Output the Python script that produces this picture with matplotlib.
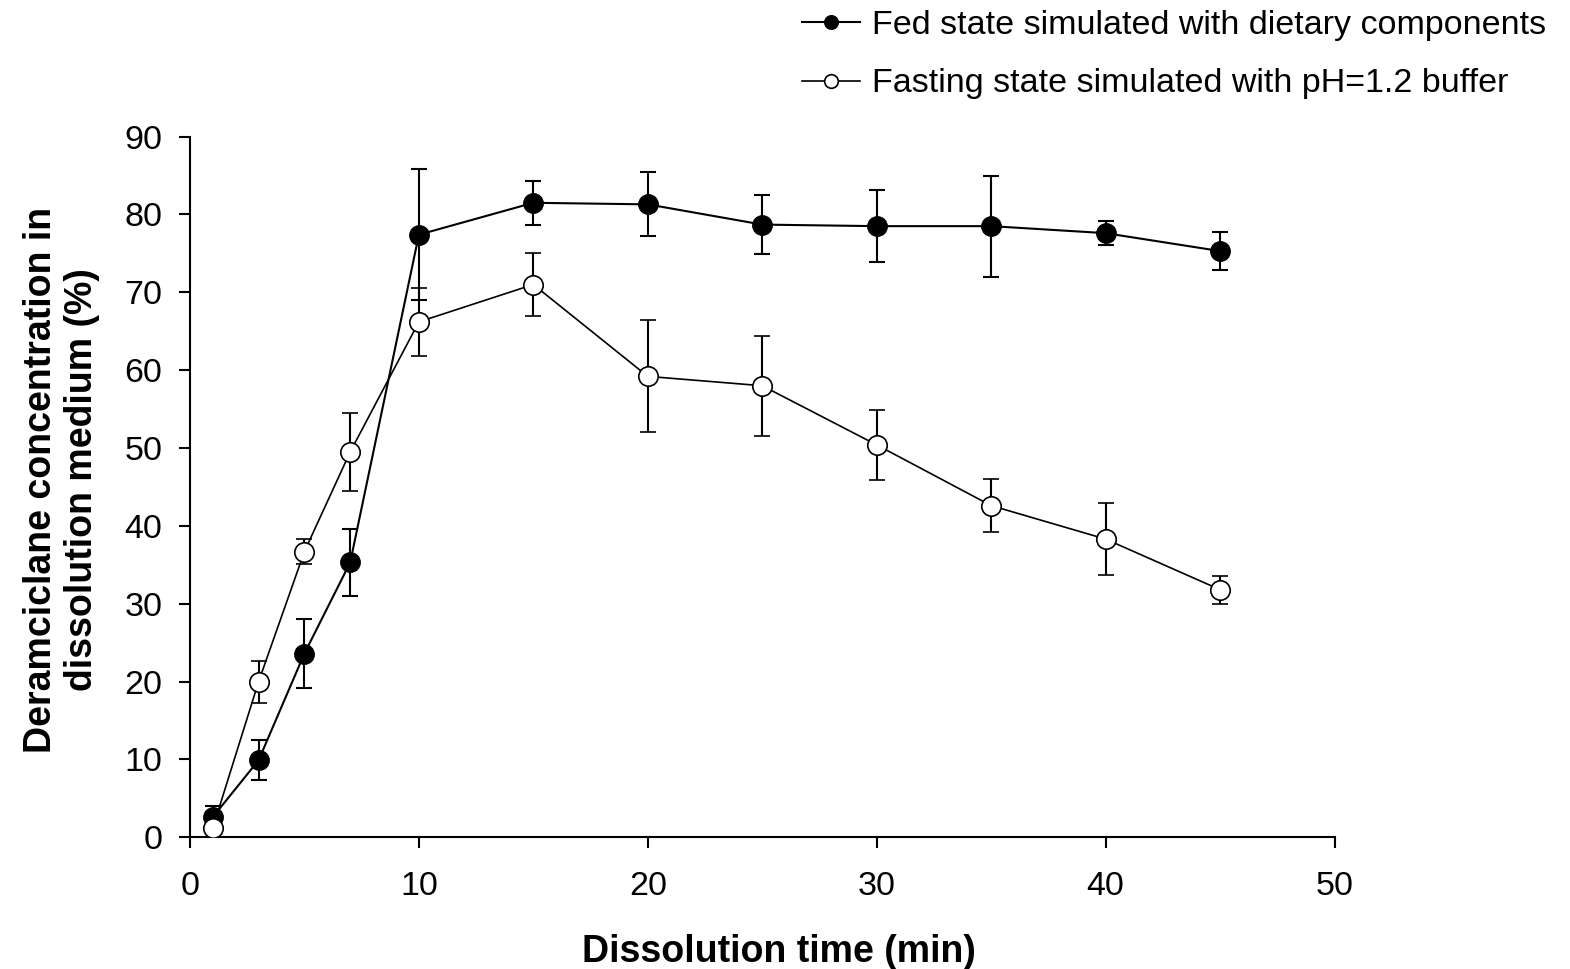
import matplotlib.pyplot as plt

plt.rcParams['font.family'] = ['Liberation Sans', 'DejaVu Sans']

# Dissolution time (min)
time = [1, 3, 5, 7, 10, 15, 20, 25, 30, 35, 40, 45]

# Fed state simulated with dietary components
fed_mean = [2.6, 9.9, 23.6, 35.3, 77.4, 81.5, 81.3, 78.7, 78.5, 78.5, 77.6, 75.3]
fed_err = [1.4, 2.6, 4.4, 4.3, 8.4, 2.8, 4.1, 3.8, 4.6, 6.5, 1.5, 2.4]

# Fasting state simulated with pH=1.2 buffer
fast_mean = [1.2, 20.0, 36.7, 49.5, 66.2, 71.0, 59.2, 58.0, 50.4, 42.6, 38.3, 31.8]
fast_err = [0.8, 2.7, 1.6, 5.0, 4.4, 4.1, 7.2, 6.4, 4.5, 3.4, 4.6, 1.8]

fig = plt.figure(figsize=(15.7, 9.69), dpi=100)
ax = fig.add_axes([0.121, 0.136, 0.729, 0.723])

ax.errorbar(time, fed_mean, yerr=fed_err, color='black', lw=1.5,
            marker='o', markersize=14, markerfacecolor='black',
            markeredgecolor='black', capsize=6, elinewidth=1.5, capthick=1.5,
            label='Fed state simulated with dietary components', zorder=3)
ax.errorbar(time, fast_mean, yerr=fast_err, color='black', lw=1.2,
            marker='o', markersize=14, markerfacecolor='white',
            markeredgecolor='black', markeredgewidth=1.2, capsize=6,
            elinewidth=1.5, capthick=1.5,
            label='Fasting state simulated with pH=1.2 buffer', zorder=3)

ax.set_xlim(0, 50)
ax.set_ylim(0, 90)
ax.set_xticks(range(0, 51, 10))
ax.set_yticks(range(0, 91, 10))
ax.spines['top'].set_visible(False)
ax.spines['right'].set_visible(False)
ax.spines['left'].set_linewidth(1.5)
ax.spines['bottom'].set_linewidth(1.5)
ax.tick_params(direction='out', length=8, width=1.5, labelsize=24.5)
ax.tick_params(axis='x', pad=16)
ax.tick_params(axis='y', pad=12)

ax.set_xlabel('Dissolution time (min)', fontsize=27, fontweight='bold')
ax.set_ylabel('Deramciclane concentration in\ndissolution medium (%)',
              fontsize=27, fontweight='bold', linespacing=1.15)
ax.xaxis.set_label_coords(0.515, -0.138)
ax.yaxis.set_label_coords(-0.079, 0.51)

handles, labels = ax.get_legend_handles_labels()
handles = [h[0] for h in handles]
leg = fig.legend(handles, labels, loc='upper right', bbox_to_anchor=(1.004, 1.021),
                 frameon=False, fontsize=24.5, handlelength=1.7, handletextpad=0.35,
                 labelspacing=0.8, markerscale=0.7)

plt.savefig('out.png', dpi=100, facecolor='white')
